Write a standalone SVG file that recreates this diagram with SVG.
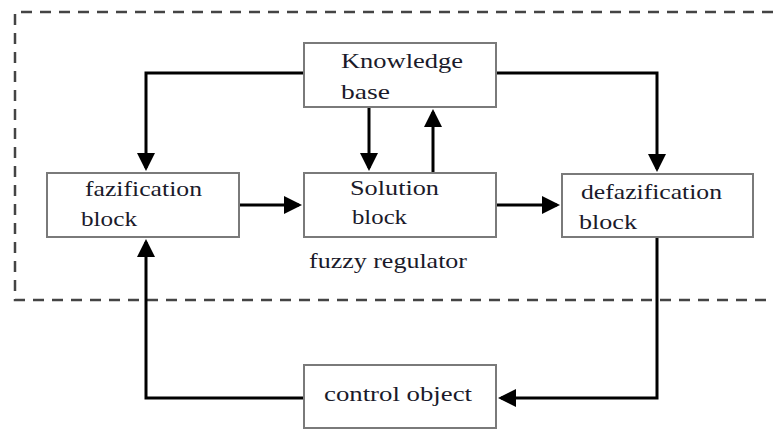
<svg xmlns="http://www.w3.org/2000/svg" width="773" height="430" viewBox="0 0 773 430">
<style>
.box{fill:#fff;stroke:#7a7a7a;stroke-width:2}
.t{font-family:"Liberation Serif","DejaVu Serif","Times New Roman",serif;font-size:22px;fill:#1a1a2a}
.c{fill:none;stroke:#000;stroke-width:3}
.d{fill:none;stroke:#444;stroke-width:2.5;stroke-dasharray:11 8}
</style>
<defs>
<marker id="a" markerWidth="6" markerHeight="6" refX="5" refY="3" orient="auto" markerUnits="strokeWidth">
<path d="M0,0 L6,3 L0,6 z" fill="#000"/>
</marker>
</defs>
<path class="d" d="M773,12 H15 V300 H773"/>
<g id="connectors">
<path class="c" d="M304,73 H146 V168" marker-end="url(#a)"/>
<path class="c" d="M496,73 H657 V169" marker-end="url(#a)"/>
<path class="c" d="M369,107 V168" marker-end="url(#a)"/>
<path class="c" d="M433,173 V112" marker-end="url(#a)"/>
<path class="c" d="M239,205 H299" marker-end="url(#a)"/>
<path class="c" d="M496,205 H557" marker-end="url(#a)"/>
<path class="c" d="M657,237 V398 H501" marker-end="url(#a)"/>
<path class="c" d="M304,398 H146 V242" marker-end="url(#a)"/>
</g>
<g id="knowledge">
<rect class="box" x="304" y="43" width="192" height="64"/>
<text class="t" x="341" y="68" textLength="122" lengthAdjust="spacingAndGlyphs">Knowledge</text>
<text class="t" x="341" y="99" textLength="49" lengthAdjust="spacingAndGlyphs">base</text>
</g>
<g id="fazification">
<rect class="box" x="47" y="173" width="192" height="64"/>
<text class="t" x="85" y="196" textLength="117" lengthAdjust="spacingAndGlyphs">fazification</text>
<text class="t" x="81" y="226" textLength="56" lengthAdjust="spacingAndGlyphs">block</text>
</g>
<g id="solution">
<rect class="box" x="304" y="173" width="192" height="64"/>
<text class="t" x="350" y="195" textLength="89" lengthAdjust="spacingAndGlyphs">Solution</text>
<text class="t" x="352" y="224" textLength="55" lengthAdjust="spacingAndGlyphs">block</text>
</g>
<g id="defazification">
<rect class="box" x="562" y="174" width="191" height="63"/>
<text class="t" x="581" y="199" textLength="141" lengthAdjust="spacingAndGlyphs">defazification</text>
<text class="t" x="579" y="229" textLength="58" lengthAdjust="spacingAndGlyphs">block</text>
</g>
<g id="label">
<text class="t" x="309" y="268" textLength="158" lengthAdjust="spacingAndGlyphs">fuzzy regulator</text>
</g>
<g id="control">
<rect class="box" x="304" y="365" width="192" height="63"/>
<text class="t" x="324" y="401" textLength="148" lengthAdjust="spacingAndGlyphs">control object</text>
</g>
</svg>
